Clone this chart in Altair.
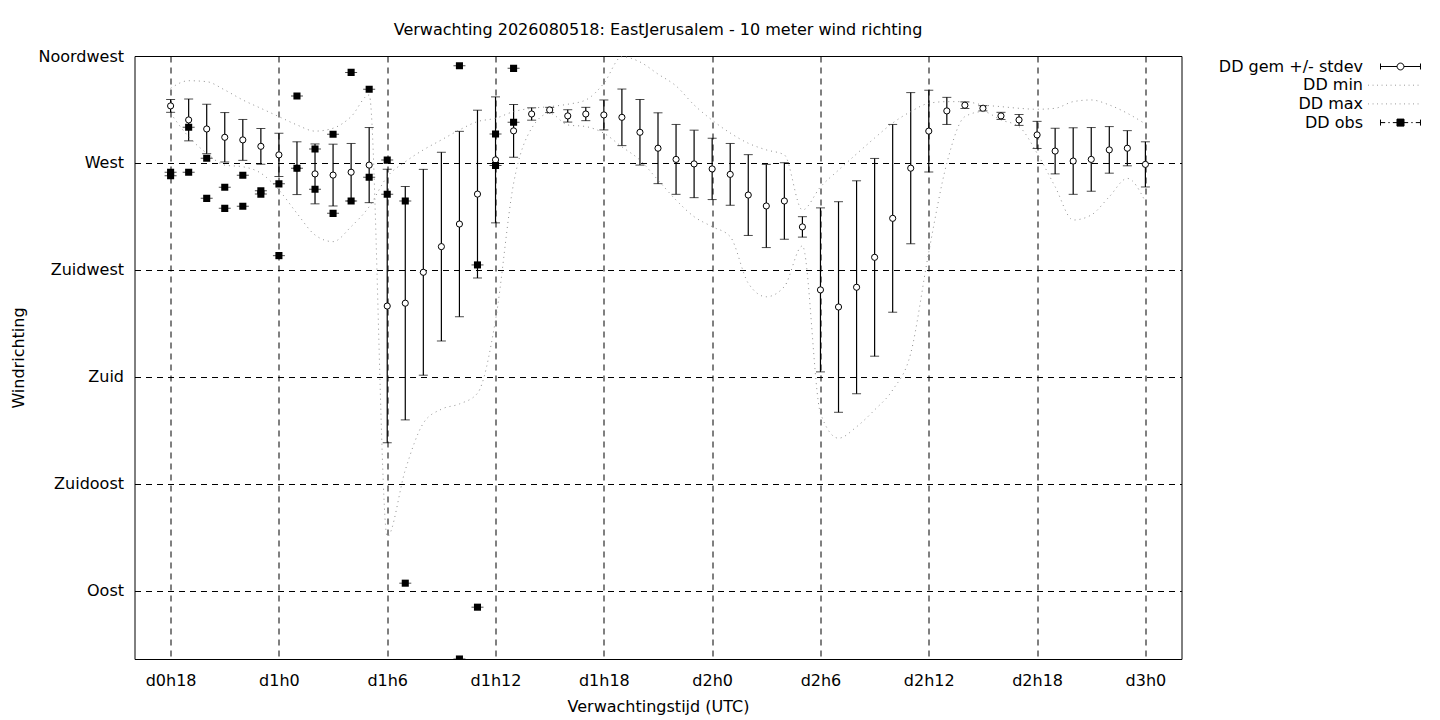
import altair as alt
import pandas as pd

# ---------------- data ----------------
hours = list(range(18, 73))

dd_mean = [
    294.0, 288.1, 284.3, 280.8, 279.7, 277.0, 273.4, 267.8, 265.4, 264.9,
    266.1, 269.1, 209.8, 211.0, 224.0, 234.8, 244.3, 256.9, 271.3, 283.5,
    290.6, 292.3, 289.8, 290.6, 290.2, 289.2, 282.9, 276.2, 271.5, 269.6,
    267.5, 265.2, 256.5, 251.9, 254.0, 243.1, 216.6, 209.4, 217.7, 230.3,
    246.7, 267.8, 283.4, 291.9, 294.3, 293.0, 289.8, 288.1, 281.8, 275.0,
    270.8, 271.5, 275.5, 276.2, 269.4,
]
dd_std = [
    2.7, 8.8, 10.4, 10.4, 8.6, 7.5, 9.1, 11.1, 12.6, 13.0,
    12.1, 15.8, 57.5, 49.1, 43.3, 39.7, 39.0, 35.3, 26.5, 11.1,
    2.6, 1.1, 2.6, 2.8, 6.3, 11.9, 13.8, 14.9, 14.7, 14.2,
    12.9, 13.0, 17.0, 17.5, 16.1, 4.3, 34.5, 44.3, 44.8, 41.6,
    39.5, 31.8, 17.2, 5.7, 1.4, 1.1, 1.5, 2.3, 5.7, 9.6,
    14.0, 13.4, 9.8, 7.4, 9.5,
]
dd_max = [
    301.4, 304.6, 304.2, 300.7, 296.5, 293.0, 289.5, 286.0, 283.4, 284.6,
    289.5, 298.6, 112.8, 140.8, 160.5, 166.4, 168.6, 173.1, 203.9, 261.4,
    284.6, 290.9, 286.0, 285.3, 282.5, 276.8, 271.2, 262.8, 254.4, 247.4,
    243.2, 239.0, 219.4, 213.7, 218.0, 235.1, 164.7, 154.2, 159.0, 166.1,
    174.5, 189.9, 232.5, 269.9, 289.5, 291.6, 288.1, 285.3, 274.1, 260.0,
    246.0, 248.1, 255.8, 263.5, 253.7,
]
dd_min = [
    290.9, 281.0, 274.1, 269.1, 268.4, 265.7, 258.6, 248.8, 239.7, 236.9,
    243.2, 251.6, 264.2, 270.5, 275.5, 279.7, 283.9, 287.4, 288.8, 291.6,
    293.0, 293.7, 294.7, 296.5, 303.5, 314.7, 312.5, 307.4, 302.4, 294.4,
    288.0, 282.6, 278.3, 275.5, 273.4, 250.2, 259.9, 267.0, 273.8, 280.5,
    286.8, 291.6, 295.1, 295.8, 295.8, 294.4, 293.7, 293.0, 292.6, 293.0,
    295.8, 296.5, 294.4, 290.9, 286.4,
]
obs_hours = [18, 18, 19, 19, 20, 20, 21, 21, 22, 22, 23, 23, 24, 24, 25, 25,
             26, 26, 27, 27, 28, 28, 29, 29, 30, 30, 31, 31, 34, 34, 35, 35,
             36, 36, 37, 37]
obs_vals = [266.1, 264.6, 285.0, 266.1, 272.0, 255.1, 259.8, 250.9, 264.8, 251.8,
            258.3, 256.9, 261.2, 231.0, 298.2, 267.8, 275.9, 258.9, 282.1, 248.8,
            308.1, 254.0, 301.0, 264.0, 271.2, 256.8, 254.0, 93.2, 310.9, 61.3,
            227.1, 83.1, 282.2, 268.9, 309.8, 287.1]

series_names = ["DD gem +/- stdev", "DD min", "DD max", "DD obs"]
y_tick_values = [90, 135, 180, 225, 270, 315]
y_tick_labels = ["Oost", "Zuidoost", "Zuid", "Zuidwest", "West", "Noordwest"]
x_tick_values = list(range(18, 73, 6))

title_text = "Verwachting 2026080518: EastJerusalem - 10 meter wind richting"
FONT = "DejaVu Sans"

# ---------------- tables ----------------
df_mean = pd.DataFrame({"uur": hours, "gem": dd_mean, "sd": dd_std})
df_mean["lo"] = df_mean["gem"] - df_mean["sd"]
df_mean["hi"] = df_mean["gem"] + df_mean["sd"]

df_lines = pd.concat([
    pd.DataFrame({"uur": hours, "dd": dd_min, "reeks": "DD min"}),
    pd.DataFrame({"uur": hours, "dd": dd_max, "reeks": "DD max"}),
], ignore_index=True)

df_obs = pd.DataFrame({"uur": obs_hours, "dd": obs_vals})

df_leg = pd.DataFrame({"reeks": series_names, "uur": [hours[0]] * 4,
                       "dd": [None] * 4})

# ---------------- scales / axes ----------------
x_scale = alt.Scale(domain=[16, 74], nice=False, zero=False)
y_scale = alt.Scale(domain=[61.3, 315], nice=False, zero=False)

y_expr = " : ".join(f"datum.value == {v} ? '{l}'"
                    for v, l in zip(y_tick_values, y_tick_labels)) + " : ''"

x_axis = alt.Axis(values=x_tick_values,
                  labelExpr="'d' + floor(datum.value / 24) + 'h' + (datum.value % 24)",
                  title="Verwachtingstijd (UTC)", labelPadding=13,
                  titleY=52.7, titleBaseline="alphabetic")
y_axis = alt.Axis(values=y_tick_values, labelExpr=y_expr, title="Windrichting",
                  labelPadding=11, titleX=-116.5, titleY=301.5,
                  titleBaseline="middle", titleAlign="center")


def X(field):
    return alt.X(f"{field}:Q", scale=x_scale, axis=x_axis)


def Y(field):
    return alt.Y(f"{field}:Q", scale=y_scale, axis=y_axis)


# ---------------- legend symbols (custom paths) ----------------
u = 2.222
sym_err = (f"M{-u},-0.333L{-u},0.333M{-u},0L-0.38,0M0.38,0L{u},0"
           f"M{u},-0.333L{u},0.333"
           "M0.38,0A0.38,0.38,0,1,1,-0.38,0A0.38,0.38,0,1,1,0.38,0Z")
dots = []
xx = -3.6
while xx <= 2.15:
    dots.append(f"M{xx:.2f},0L{xx + 0.1:.2f},0")
    xx += 0.5
sym_dot = "".join(dots)
sym_obs = (f"M{-u},-0.333L{-u},0.333M{-u},0L-1.7,0M-1.35,0L-1.2,0M-0.85,0L-0.39,0"
           "M-0.39,-0.39L0.39,-0.39L0.39,0.39L-0.39,0.39Z"
           f"M0.39,0L0.85,0M1.2,0L1.35,0M1.7,0L{u},0M{u},-0.333L{u},0.333")

leg = alt.Legend(title=None, orient="none", legendX=1256.5, legendY=1,
                 labelAlign="right", labelOffset={"expr": "-47"}, labelFont=FONT,
                 labelFontSize=16, labelColor="black", labelLimit=400,
                 symbolSize=324, symbolStrokeWidth=1, symbolOpacity=1,
                 rowPadding=0.7, padding=0, offset=0)

# ---------------- layers ----------------
err_rule = alt.Chart(df_mean).mark_rule(color="black", strokeWidth=1.2).encode(
    x=X("uur"), y=Y("lo"), y2="hi")
cap_lo = alt.Chart(df_mean).mark_tick(orient="horizontal", size=9, thickness=1,
                                      color="black").encode(x=X("uur"), y=Y("lo"))
cap_hi = alt.Chart(df_mean).mark_tick(orient="horizontal", size=9, thickness=1,
                                      color="black").encode(x=X("uur"), y=Y("hi"))
circles = alt.Chart(df_mean).mark_point(shape="circle", filled=True, fill="white",
                                        stroke="black", strokeWidth=1, size=38,
                                        opacity=1).encode(x=X("uur"), y=Y("gem"))

lines = alt.Chart(df_lines).mark_line(strokeDash=[1, 4], color="#909090",
                                      strokeWidth=1, interpolate="monotone").encode(
    x=X("uur"), y=Y("dd"), detail="reeks:N")

obs_sq = alt.Chart(df_obs).mark_square(filled=True, color="black", size=50,
                                       opacity=1, clip=True).encode(
    x=X("uur"), y=Y("dd"))
obs_tick = alt.Chart(df_obs).mark_tick(orient="horizontal", size=12, thickness=1,
                                       color="black", clip=True).encode(
    x=X("uur"), y=Y("dd"))

legend_layer = alt.Chart(df_leg).mark_point(filled=False).encode(
    x=X("uur"), y=Y("dd"),
    shape=alt.Shape("reeks:N", scale=alt.Scale(domain=series_names,
                                               range=[sym_err, sym_dot, sym_dot, sym_obs]),
                    legend=leg),
    stroke=alt.Stroke("reeks:N", scale=alt.Scale(domain=series_names,
                                                 range=["black", "#909090", "#909090", "black"]),
                      legend=leg),
    fill=alt.Fill("reeks:N", scale=alt.Scale(domain=series_names,
                                             range=["white", "white", "white", "black"]),
                  legend=leg),
)

chart = alt.layer(
    err_rule, cap_lo, cap_hi, circles, lines, obs_sq, obs_tick, legend_layer
).properties(
    width=1047, height=603,
    title=alt.TitleParams(title_text, anchor="middle", offset=22, dy=25,
                          baseline="alphabetic", font=FONT, fontSize=16,
                          fontWeight="normal", color="black"),
    autosize=alt.AutoSizeParams(type="none"),
    padding={"left": 126.5, "top": 48, "right": 250, "bottom": 58},
).configure_view(
    stroke="black", strokeWidth=1
).configure_axis(
    domain=False, ticks=False, grid=True, gridColor="black", gridDash=[6, 5],
    gridOpacity=1, gridWidth=1, labelFont=FONT, labelFontSize=16,
    labelColor="black", titleFont=FONT, titleFontSize=16,
    titleFontWeight="normal", titleColor="black"
)

chart.save("out.html", embed_options={"renderer": "svg", "actions": False})
